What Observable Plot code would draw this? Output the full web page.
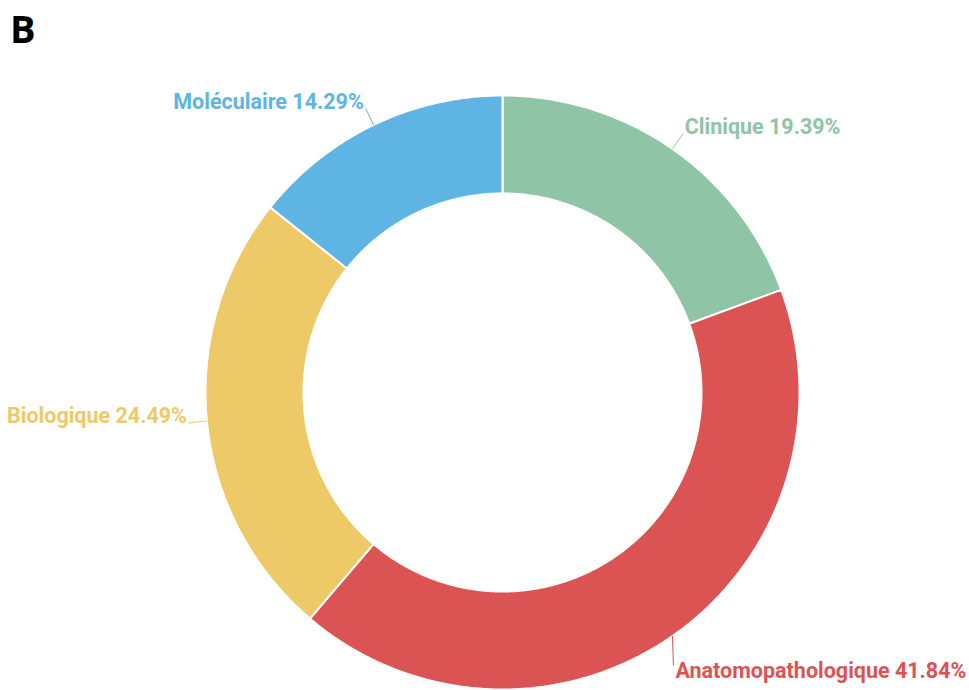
<!DOCTYPE html>
<html><head><meta charset="utf-8">
<script src="https://cdn.jsdelivr.net/npm/d3@7"></script>
<script src="https://cdn.jsdelivr.net/npm/@observablehq/plot@0.6"></script>
<style>
body{margin:0;background:#fff;}
#wrap{position:relative;width:969px;height:690px;overflow:hidden;}
#title{position:absolute;left:10px;top:2px;font:bold 38px "Open Sans";color:#000;}
#chart{position:absolute;left:0;top:0;}
</style></head><body>
<div id="wrap"><div id="chart"></div><div id="title">B</div></div>
<script>
const categories = ["Clinique", "Anatomopathologique", "Biologique", "Moléculaire"];
const percentages = [19.39, 41.84, 24.49, 14.29];
const colors = ["#8fc4a6", "#dc5354", "#edc967", "#5eb5e3"];

const W = 969, H = 690, CX = 502, CY = 392;
const R = 297, RIN = 199, RLAB = 315;
const total = d3.sum(percentages);
const rad = a => a * Math.PI / 180;
const pt = (r, a) => ({x: r * Math.sin(rad(a)), y: r * Math.cos(rad(a))});

let acc = 0;
const slices = categories.map((c, i) => {
  const a0 = acc / total * 360;
  acc += percentages[i];
  const a1 = acc / total * 360;
  return {cat: c, value: percentages[i], color: colors[i], a0, a1, mid: (a0 + a1) / 2};
});

function ringPoints(s) {
  const pts = [];
  const n = Math.max(2, Math.ceil((s.a1 - s.a0) / 0.5));
  for (let k = 0; k <= n; k++) pts.push(pt(R, s.a0 + (s.a1 - s.a0) * k / n));
  for (let k = n; k >= 0; k--) pts.push(pt(RIN, s.a0 + (s.a1 - s.a0) * k / n));
  pts.push(pts[0]);
  return pts;
}

const marks = [];
slices.forEach(s => {
  marks.push(Plot.line(ringPoints(s), {x: "x", y: "y", fill: s.color, stroke: "white", strokeWidth: 2, strokeLinejoin: "round", curve: "linear"}));
});

slices.forEach(s => {
  const p0 = pt(R, s.mid);
  let p1 = pt(RLAB, s.mid);
  const right = Math.sin(rad(s.mid)) >= 0;
  let dy = -7;
  // push lower-right label down so its long text stays inside the frame
  if (s.mid > 120 && s.mid < 180) { p1 = {x: p0.x + 1, y: p0.y - 29}; dy = 6; }
  const label = `${s.cat} ${s.value.toFixed(2)}%`;
  marks.push(Plot.line([p0, p1], {x: "x", y: "y", stroke: s.color, strokeWidth: 1}));
  marks.push(Plot.text([{x: p1.x, y: p1.y, t: label}], {
    x: "x", y: "y", text: "t", fill: s.color, fontSize: 21.5, fontWeight: "bold",
    fontFamily: "Roboto", textAnchor: right ? "start" : "end", lineAnchor: "middle",
    dx: right ? 2 : -2, dy
  }));
});

const chart = Plot.plot({
  width: W, height: H, margin: 0,
  x: {domain: [-CX, W - CX], axis: null},
  y: {domain: [-(H - CY), CY], axis: null},
  style: {background: "transparent", overflow: "visible"},
  marks
});
document.getElementById("chart").appendChild(chart);
</script>
</body></html>
